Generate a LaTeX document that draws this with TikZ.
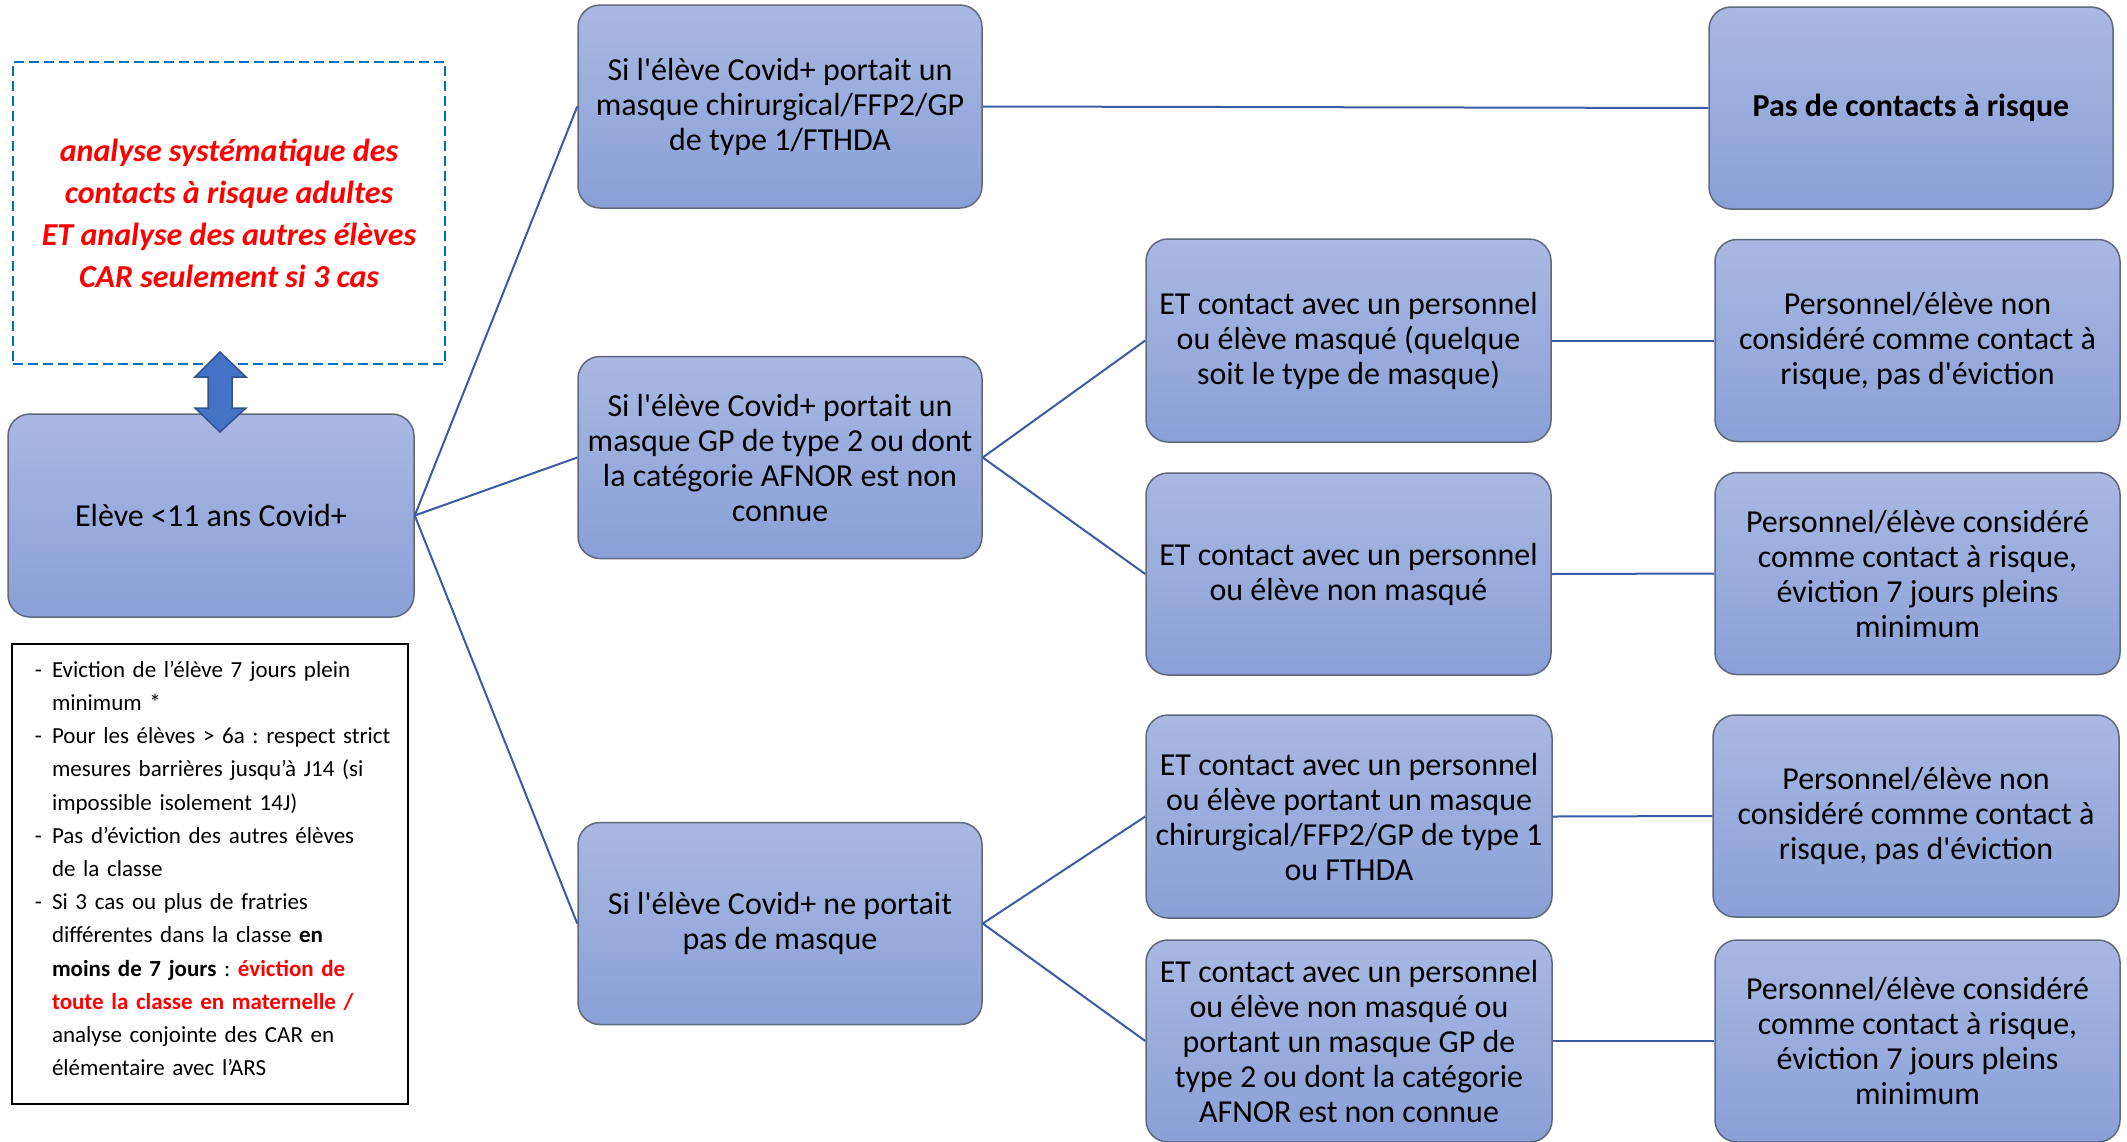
\documentclass[tikz,border=0pt]{standalone}
\usepackage{fontspec}
\setmainfont{Carlito}[Ligatures=TeXOff]
\definecolor{boxtop}{RGB}{170,184,226}
\definecolor{boxbot}{RGB}{137,160,215}
\definecolor{boxline}{RGB}{96,104,124}
\definecolor{linkblue}{RGB}{58,92,166}
\definecolor{dashblue}{RGB}{0,112,192}
\definecolor{arrowfill}{RGB}{68,114,196}
\definecolor{arrowline}{RGB}{47,82,143}
\definecolor{alertred}{RGB}{255,0,0}

\tikzset{
  casebox/.style={draw=boxline, line width=1.5pt, rounded corners=22pt,
    top color=boxtop, bottom color=boxbot, minimum width=404pt,
    minimum height=202pt, align=center, inner sep=4pt,
    font=\fontsize{32}{35}\selectfont},
  link/.style={draw=linkblue, line width=2pt}
}

\begin{document}
\begin{tikzpicture}[x=1pt,y=-1pt]
            \useasboundingbox (0,0) rectangle (2127,1141);

            \node[draw=dashblue, line width=2.5pt, dash pattern=on 10pt off 5pt,
                minimum width=432pt, minimum height=302pt, align=center, text=alertred,
                font=\fontsize{32}{42}\selectfont\bfseries\itshape] (analyse) at (229,213)
                {analyse systématique des\\contacts à risque adultes\\ET analyse des autres élèves\\CAR seulement si 3 cas};

            \node[casebox, minimum width=406pt, minimum height=203pt] (eleve) at (211,515.5) {Elève <11 ans Covid+};

            \node[draw, line width=1.5pt, minimum width=396pt, minimum height=460pt,
                inner xsep=0pt, inner ysep=0pt, text width=392pt, font=\fontsize{23}{33.2}\selectfont] (notes) at (210,874)
                {\raggedright\frenchspacing
                \begin{list}{-}{\setlength\leftmargin{38pt}\setlength\labelwidth{10pt}\setlength\labelsep{10pt}%
                    \setlength\itemsep{0pt}\setlength\parsep{0pt}\setlength\topsep{0pt}\setlength\partopsep{0pt}}
                \item Eviction de l’élève 7 jours plein\\minimum *
                \item Pour les élèves > 6a : respect strict\\mesures barrières jusqu’à J14 (si\\impossible isolement 14J)
                \item Pas d’éviction des autres élèves\\de la classe
                \item Si 3 cas ou plus de fratries\\différentes dans la classe \textbf{en}\\\textbf{moins de 7 jours} : \textcolor{alertred}{\textbf{éviction de}}\\\textcolor{alertred}{\textbf{toute la classe en maternelle /}}\\analyse conjointe des CAR en\\élémentaire avec l’ARS
                \end{list}
                \par\nointerlineskip\vspace{28pt}\hbox{}};

            % masque de l'eleve covid+
            \node[casebox, minimum height=203pt] (masqueA) at (780,106.5) {Si l'élève Covid+ portait un\\masque chirurgical/FFP2/GP\\de type 1/FTHDA};
            \node[casebox] (masqueB) at (780,457.5) {Si l'élève Covid+ portait un\\masque GP de type 2 ou dont\\la catégorie AFNOR est non\\connue};
            \node[casebox] (sansmasque) at (780,923.5) {Si l'élève Covid+ ne portait\\pas de masque};

            % contacts
            \node[casebox, minimum width=405pt, minimum height=203pt] (contactmasque) at (1348.5,340.5) {ET contact avec un personnel\\ou élève masqué (quelque\\soit le type de masque)};
            \node[casebox, minimum width=405pt] (contactnonmasque) at (1348.5,574) {ET contact avec un personnel\\ou élève non masqué};
            \node[casebox, minimum width=406pt, minimum height=203pt] (contacttypeA) at (1349,816.5) {ET contact avec un personnel\\ou élève portant un masque\\chirurgical/FFP2/GP de type 1\\ou FTHDA};
            \node[casebox, minimum width=406pt] (contacttypeB) at (1349,1041) {ET contact avec un personnel\\ou élève non masqué ou\\portant un masque GP de\\type 2 ou dont la catégorie\\AFNOR est non connue};

            % conclusions
            \node[casebox] (pascar) at (1911,108) {\textbf{Pas de contacts à risque}};
            \node[casebox, minimum width=405pt] (noncarA) at (1917.5,340.5) {Personnel/élève non\\considéré comme contact à\\risque, pas d'éviction};
            \node[casebox, minimum width=405pt] (carA) at (1917.5,573.5) {Personnel/élève considéré\\comme contact à risque,\\éviction 7 jours pleins\\minimum};
            \node[casebox, minimum width=406pt] (noncarB) at (1916,816) {Personnel/élève non\\considéré comme contact à\\risque, pas d'éviction};
            \node[casebox, minimum width=405pt] (carB) at (1917.5,1041) {Personnel/élève considéré\\comme contact à risque,\\éviction 7 jours pleins\\minimum};

            \draw[link] (eleve.east) -- (masqueA.west);
            \draw[link] (eleve.east) -- (masqueB.west);
            \draw[link] (eleve.east) -- (sansmasque.west);
            \draw[link] (masqueA.east) -- (pascar.west);
            \draw[link] (masqueB.east) -- (contactmasque.west);
            \draw[link] (masqueB.east) -- (contactnonmasque.west);
            \draw[link] (sansmasque.east) -- (contacttypeA.west);
            \draw[link] (sansmasque.east) -- (contacttypeB.west);
            \draw[link] (contactmasque.east) -- (noncarA.west);
            \draw[link] (contactnonmasque.east) -- (carA.west);
            \draw[link] (contacttypeA.east) -- (noncarB.west);
            \draw[link] (contacttypeB.east) -- (carB.west);

            \draw[fill=arrowfill, draw=arrowline, line width=1.5pt, line join=miter]
                (220,352) -- (246,377) -- (232,377) -- (232,408) -- (246,408) -- (220,432)
                -- (195,408) -- (208,408) -- (208,377) -- (195,377) -- cycle;
        \end{tikzpicture}
\end{document}
